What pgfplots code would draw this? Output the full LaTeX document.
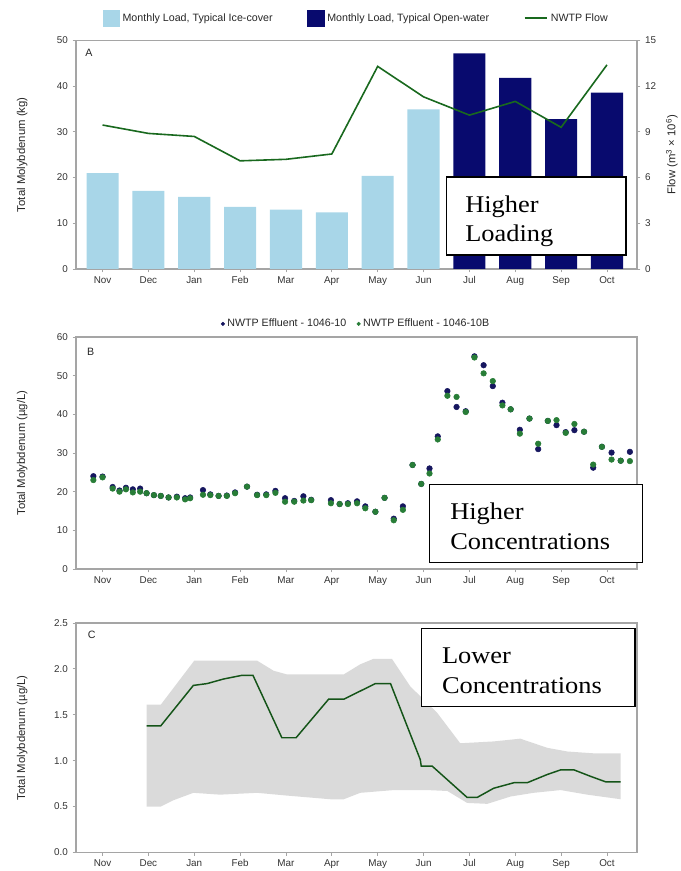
\documentclass[border=0pt]{standalone}
\usepackage{graphicx}
\usepackage{pgfplots}
\pgfplotsset{compat=1.18}
\usepackage{fontspec}
\setmainfont{Liberation Sans}
\newfontfamily\boxfont{Liberation Serif}

\definecolor{icecover}{RGB}{168,214,232}
\definecolor{openwater}{RGB}{8,10,110}
\definecolor{flowgreen}{RGB}{25,105,30}
\definecolor{effnavy}{RGB}{22,22,95}
\definecolor{effgreen}{RGB}{40,125,55}
\definecolor{bandgray}{RGB}{218,218,218}
\definecolor{axisgray}{RGB}{165,165,165}

\pgfplotsset{
  panel/.style={
    scale only axis, width=420.75pt,
    xmin=-0.579, xmax=11.655,
    xtick={0,...,11},
    xticklabels={Nov,Dec,Jan,Feb,Mar,Apr,May,Jun,Jul,Aug,Sep,Oct},
    axis line style={axisgray, line width=0.8pt},
    tick style={axisgray, line width=0.6pt},
    tick align=outside, major tick length=2.5pt,
    xtick pos=bottom, ytick pos=left,
    tick label style={font=\fontsize{7.4}{9}\selectfont, text=black!80},
    xticklabel style={text height=1.2ex, text depth=0.25ex, inner sep=1.5pt, anchor=north},
    ylabel style={font=\fontsize{8.5}{10}\selectfont, text=black!85,
      at={(axis description cs:-0.096,0.5)}, anchor=center},
    /pgf/number format/assume math mode=true,
    legend style={draw=none, fill=none, font=\fontsize{8}{9}\selectfont, text=black!85},
  },
  barsq/.style={legend image code/.code={\fill[##1] (0pt,-6.5pt) rectangle (13pt,6.5pt);}},
}

\newcommand{\boxtext}[1]{{\boxfont\fontsize{18}{20}\selectfont\scalebox{1.1}[1]{#1}}}

\begin{document}
\begin{tikzpicture}
\useasboundingbox (0,0) rectangle (510.75pt,653.25pt);

% ---------- A: monthly load and plant flow ----------
\begin{axis}[panel, at={(57pt,622.875pt)}, anchor=north west, height=171.375pt,
  ymin=0, ymax=50, ytick={0,10,...,50},
  ylabel={Total Molybdenum (kg)},
  legend columns=3,
  legend style={at={(0.5,1)}, anchor=south, yshift=8pt,
    /tikz/every even column/.append style={column sep=24pt}}]
\addplot[ybar, bar width=0.7, bar shift=0pt, fill=icecover, draw=none, barsq]
  coordinates {(0,21.0) (1,17.1) (2,15.8) (3,13.6) (4,13.0) (5,12.4) (6,20.4) (7,34.9)};
\addlegendentry{Monthly Load, Typical Ice-cover}
\addplot[ybar, bar width=0.7, bar shift=0pt, fill=openwater, draw=none, barsq]
  coordinates {(8,47.2) (9,41.8) (10,32.8) (11,38.6)};
\addlegendentry{Monthly Load, Typical Open-water}
\addlegendimage{flowgreen, line width=1.2pt}
\addlegendentry{NWTP Flow}
\node[font=\fontsize{8}{9}\selectfont, text=black!85] at (axis description cs:0.023,0.945) {A};
\end{axis}

\begin{axis}[scale only axis, width=420.75pt, height=171.375pt,
  at={(57pt,622.875pt)}, anchor=north west,
  xmin=-0.579, xmax=11.655, hide x axis,
  axis y line*=right, ymin=0, ymax=15, ytick={0,3,...,15},
  axis line style={axisgray, line width=0.8pt},
  tick style={axisgray, line width=0.6pt},
  tick align=outside, major tick length=2.5pt,
  tick label style={font=\fontsize{7.4}{9}\selectfont, text=black!80},
  /pgf/number format/assume math mode=true,
  ylabel={Flow (m\textsuperscript{3} × 10\textsuperscript{6})},
  ylabel style={font=\fontsize{8.5}{10}\selectfont, text=black!85,
    at={(axis description cs:1.062,0.5)}, anchor=center}]
\addplot[flowgreen, line width=1.2pt]
  coordinates {(0,9.45) (1,8.9) (2,8.7) (3,7.1) (4,7.2) (5,7.55)
               (6,13.3) (7,11.3) (8,10.1) (9,11.0) (10,9.3) (11,13.4)};
\end{axis}

% ---------- B: effluent concentrations ----------
\begin{axis}[panel, at={(57pt,400.5pt)}, anchor=north west, height=174pt,
  ymin=0, ymax=60, ytick={0,10,...,60},
  ylabel={Total Molybdenum (µg/L)},
  legend columns=2,
  legend style={at={(0.5,1)}, anchor=south, yshift=2pt,
    /tikz/every even column/.append style={column sep=6pt}}]
\addplot[only marks, mark=*, mark size=2.1pt, effnavy,
  legend image post style={mark size=1.3pt}] coordinates {
 (-0.20,24.0) (0.00,23.9) (0.22,21.2) (0.37,20.3) (0.51,21.0) (0.66,20.6)
 (0.82,20.8) (0.96,19.6) (1.12,19.1) (1.27,18.9) (1.44,18.5) (1.62,18.7)
 (1.80,18.3) (1.91,18.5) (2.19,20.4) (2.35,19.3) (2.53,18.9) (2.71,19.0)
 (2.89,19.8) (3.15,21.3) (3.37,19.2) (3.57,19.3) (3.77,20.2) (3.98,18.3)
 (4.18,17.6) (4.38,18.8) (4.55,17.9) (4.98,17.8) (5.17,16.8) (5.35,17.0)
 (5.55,17.5) (5.73,16.2) (5.95,14.8) (6.15,18.4) (6.35,13.0) (6.55,16.2)
 (6.76,26.9) (6.95,22.0) (7.13,26.0) (7.31,34.3) (7.52,46.0) (7.72,41.9)
 (7.92,40.8) (8.11,55.0) (8.31,52.7) (8.51,47.3) (8.72,43.0) (8.90,41.3)
 (9.10,36.0) (9.31,38.9) (9.50,31.0) (9.71,38.3) (9.90,37.2) (10.10,35.4)
 (10.29,35.9) (10.50,35.5) (10.70,26.2) (10.89,31.6) (11.10,30.1) (11.30,28.0)
 (11.50,30.3)};
\addlegendentry{NWTP Effluent - 1046-10}
\addplot[only marks, mark=*, mark size=2.1pt, effgreen,
  legend image post style={mark size=1.3pt}] coordinates {
 (-0.20,23.0) (0.00,23.7) (0.22,20.8) (0.37,20.0) (0.51,20.6) (0.66,19.8)
 (0.82,20.0) (0.96,19.6) (1.12,19.1) (1.27,18.9) (1.44,18.5) (1.62,18.5)
 (1.80,18.0) (1.91,18.3) (2.19,19.2) (2.35,19.1) (2.53,18.9) (2.71,18.9)
 (2.89,19.6) (3.15,21.3) (3.37,19.1) (3.57,19.1) (3.77,19.7) (3.98,17.4)
 (4.18,17.4) (4.38,17.7) (4.55,17.8) (4.98,17.0) (5.17,16.8) (5.35,16.8)
 (5.55,17.0) (5.73,15.7) (5.95,14.8) (6.15,18.4) (6.35,12.6) (6.55,15.3)
 (6.76,26.9) (6.95,22.0) (7.13,24.7) (7.31,33.5) (7.52,44.8) (7.72,44.5)
 (7.92,40.6) (8.11,54.7) (8.31,50.6) (8.51,48.6) (8.72,42.3) (8.90,41.3)
 (9.10,35.0) (9.31,38.9) (9.50,32.4) (9.71,38.3) (9.90,38.5) (10.10,35.2)
 (10.29,37.5) (10.50,35.5) (10.70,27.0) (10.89,31.6) (11.10,28.3) (11.30,28.0)
 (11.50,27.9)};
\addlegendentry{NWTP Effluent - 1046-10B}
\node[font=\fontsize{8}{9}\selectfont, text=black!85] at (axis description cs:0.026,0.937) {B};
\end{axis}

% ---------- C: receiving-water concentrations ----------
\begin{axis}[panel, at={(57pt,186pt)}, anchor=north west, height=172.125pt,
  ymin=0, ymax=2.5, ytick={0,0.5,1.0,1.5,2.0,2.5},
  yticklabel style={/pgf/number format/fixed,
    /pgf/number format/fixed zerofill, /pgf/number format/precision=1},
  ylabel={Total Molybdenum (µg/L)}]
\addplot[fill=bandgray, draw=none] coordinates {
 (0.96,1.61) (1.27,1.61) (2.00,2.09) (3.37,2.09) (3.73,1.98) (4.02,1.94)
 (5.26,1.94) (5.62,2.05) (5.91,2.11) (6.31,2.11) (6.71,1.81) (7.30,1.52)
 (7.80,1.19) (8.53,1.21) (9.11,1.24) (9.70,1.14) (10.14,1.10) (10.72,1.08)
 (11.30,1.08)
 (11.30,0.58) (10.57,0.63) (9.99,0.68) (9.40,0.65) (8.90,0.61) (8.39,0.53)
 (7.95,0.54) (7.52,0.67) (7.08,0.68) (6.35,0.68) (5.62,0.65) (5.26,0.58)
 (4.97,0.58) (4.02,0.62) (3.37,0.65) (2.56,0.63) (1.98,0.65) (1.55,0.57)
 (1.27,0.50) (0.96,0.50)} -- cycle;
\addplot[flowgreen!80!black, line width=1.1pt] coordinates {
 (0.96,1.38) (1.27,1.38) (1.98,1.82) (2.28,1.84) (2.64,1.89) (3.04,1.93)
 (3.28,1.93) (3.91,1.25) (4.22,1.25) (4.93,1.67) (5.26,1.67) (5.95,1.84)
 (6.28,1.84) (6.93,1.01) (6.95,0.94) (7.19,0.94) (7.95,0.60) (8.17,0.60)
 (8.53,0.70) (8.97,0.76) (9.26,0.76) (9.70,0.85) (9.99,0.90) (10.28,0.90)
 (10.64,0.83) (10.97,0.77) (11.30,0.77)};
\node[font=\fontsize{8}{9}\selectfont, text=black!85] at (axis description cs:0.028,0.948) {C};
\end{axis}

% ---------- annotation boxes ----------
\draw[fill=white, line width=0.8pt] (334.875pt,520.5pt) rectangle (469.5pt,462pt);
\node[anchor=base west, inner sep=0pt] at (348.75pt,493.5pt) {\boxtext{Higher}};
\begin{scope}
  \clip (334.875pt,520.5pt) rectangle (469.5pt,468.5pt);
  \node[anchor=base west, inner sep=0pt] at (348.75pt,471.75pt) {\boxtext{Loading}};
\end{scope}

\draw[fill=white, line width=0.8pt] (322.125pt,289.875pt) rectangle (482.0pt,231.375pt);
\node[anchor=base west, inner sep=0pt] at (337.5pt,263.25pt) {\boxtext{Higher}};
\node[anchor=base west, inner sep=0pt] at (337.5pt,240.75pt) {\boxtext{Concentrations}};

\draw[fill=white, line width=0.8pt] (316.3pt,182.0pt) rectangle (476.25pt,123.2pt);
\node[anchor=base west, inner sep=0pt] at (331.3pt,155.8pt) {\boxtext{Lower}};
\node[anchor=base west, inner sep=0pt] at (331.3pt,133.3pt) {\boxtext{Concentrations}};
\end{tikzpicture}
\end{document}
